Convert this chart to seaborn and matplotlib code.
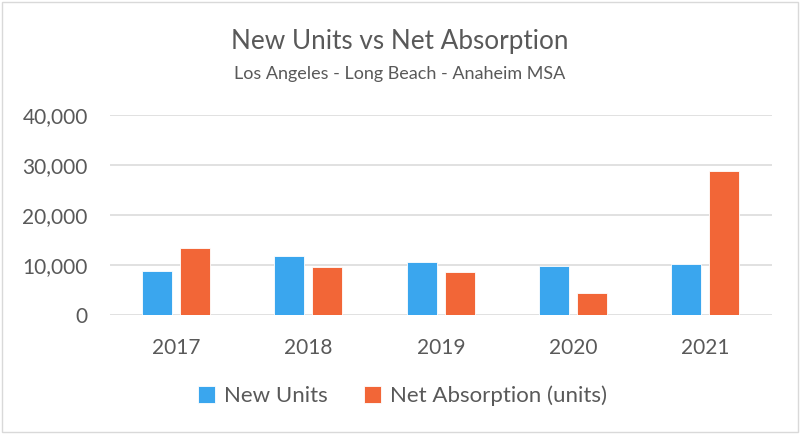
import matplotlib
matplotlib.use("Agg")
import matplotlib.pyplot as plt
import seaborn as sns
import pandas as pd
from matplotlib.ticker import FuncFormatter
from matplotlib.patches import Rectangle

years = ["2017", "2018", "2019", "2020", "2021"]
new_units = [8950, 11850, 10750, 9850, 10350]
net_absorption = [13450, 9650, 8650, 4450, 28950]
series_names = ["New Units", "Net Absorption (units)"]
colors = ["#3AA6EE", "#F26637"]

df = pd.DataFrame({
    "Year": years * 2,
    "Value": new_units + net_absorption,
    "Series": [series_names[0]] * len(years) + [series_names[1]] * len(years),
})

sns.set_theme(style="white")
plt.rcParams["font.family"] = ["Lato", "DejaVu Sans"]
text_color = "#595959"

fig = plt.figure(figsize=(8, 4.34), dpi=100)
ax = fig.add_axes([0.1375, 0.2735, 0.827, 0.4608])

sns.barplot(data=df, x="Year", y="Value", hue="Series", palette=colors,
            width=0.574, gap=0.21, ax=ax, edgecolor="#ffffff", linewidth=0.6,
            saturation=1, legend=True)

ax.set_ylim(0, 40000)
ax.set_xlim(-0.5, 4.5)
ax.set_yticks([0, 10000, 20000, 30000, 40000])
ax.yaxis.set_major_formatter(FuncFormatter(lambda v, p: f"{int(v):,}"))
ax.grid(axis="y", color="#d9d9d9", linewidth=1.1)
ax.set_axisbelow(True)
for s in ax.spines.values():
    s.set_visible(False)
ax.set_xlabel("")
ax.set_ylabel("")
ax.tick_params(axis="y", length=0, pad=16, labelsize=15, labelcolor=text_color)
ax.tick_params(axis="x", length=0, pad=16, labelsize=15, labelcolor=text_color)

handles, labels = ax.get_legend_handles_labels()
ax.get_legend().remove()
fig.legend(handles, labels, loc="center", bbox_to_anchor=(0.503, 0.0876), ncol=2,
           frameon=False, fontsize=16, labelcolor=text_color, handlelength=0.8,
           handleheight=0.8, handletextpad=0.4, columnspacing=1.6)

fig.text(0.5, 0.905, "New Units vs Net Absorption", ha="center", va="center",
         fontsize=18.8, color=text_color)
fig.text(0.5, 0.83, "Los Angeles - Long Beach - Anaheim MSA", ha="center", va="center",
         fontsize=13, color=text_color)

fig.patches.append(Rectangle((0.003, 0.004), 0.994, 0.991, transform=fig.transFigure,
                             fill=False, edgecolor="#d9d9d9", linewidth=1.0))

fig.savefig("out.png", dpi=100)
